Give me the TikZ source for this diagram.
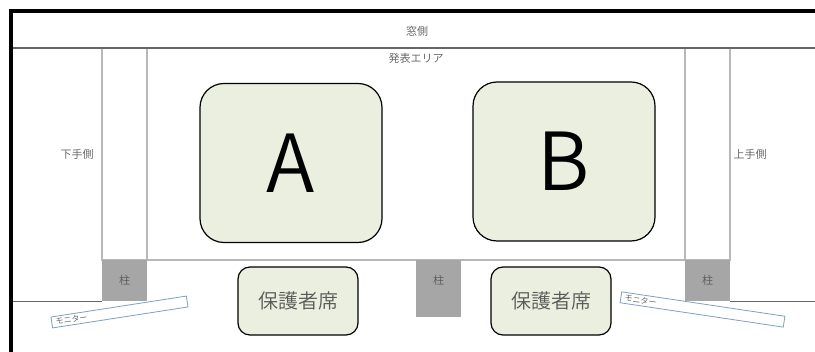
\documentclass[tikz,border=0pt]{standalone}
\usepackage{fontspec}
\setmainfont{Noto Sans CJK JP}
\newfontfamily\lightfont{Noto Sans CJK JP DemiLight}
\definecolor{boxfill}{HTML}{EBEFDF}
\definecolor{wallgray}{HTML}{B8B8B8}
\definecolor{pillargray}{HTML}{A6A6A6}
\definecolor{labelgray}{HTML}{595959}
\definecolor{monitorblue}{HTML}{7F9FC4}
\tikzset{
  zone/.style={font=\lightfont\fontsize{11}{11}\selectfont, text=labelgray, inner sep=0pt},
  pillar/.style={fill=pillargray, inner sep=0pt, font=\lightfont\fontsize{11}{11}\selectfont, text=labelgray},
  group/.style={draw=black, line width=1.2pt, fill=boxfill, rounded corners=24pt, minimum width=182pt, minimum height=159pt, inner sep=0pt, font=\lightfont\fontsize{80}{80}\selectfont},
  seat/.style={draw=black, line width=1.2pt, fill=boxfill, rounded corners=12pt, minimum width=120pt, minimum height=68pt, inner sep=0pt, text=labelgray, font=\lightfont\fontsize{20}{20}\selectfont},
  monitor/.style={draw=monitorblue, line width=0.8pt, fill=white, minimum height=11pt, inner sep=0pt, font=\lightfont\fontsize{8}{8}\selectfont, text=labelgray}
}
\begin{document}
\begin{tikzpicture}[x=1pt,y=-1pt]
    \useasboundingbox (0,0) rectangle (815,352);
    % walls
    \draw[wallgray, line width=1.2pt] (102,48) -- (102,260) -- (730,260) -- (730,48)
    (147,48) -- (147,260)
    (685,48) -- (685,260);
    \draw[gray!80!black, line width=1.2pt] (12,48) -- (815,48);
    \draw[gray!80!black, line width=0.8pt] (12,301) -- (102,301)
    (730,301) -- (815,301);
    % pillars
    \node[pillar, minimum width=45pt, minimum height=41pt] (pillarl) at (124.5,280.5) {柱};
    \node[pillar, minimum width=45pt, minimum height=57pt, anchor=north] (pillarm) at (438.5,260) {};
    \node[zone] (pillarmtext) at (438.5,280.5) {柱};
    \node[pillar, minimum width=45pt, minimum height=41pt] (pillarr) at (707.5,280.5) {柱};
    % outer frame
    \draw[black, line width=4pt] (11,352) -- (11,11) -- (815,11);
    % labels
    \node[zone] (window) at (417,31) {窓側};
    \node[zone] (stage) at (416,58.5) {発表エリア};
    \node[zone] (left) at (77,154) {下手側};
    \node[zone] (right) at (750,154) {上手側};
    % groups
    \node[group] (a) at (291,163) {A};
    \node[group] (b) at (564,161.5) {B};
    \node[seat] (seata) at (298,301) {保護者席};
    \node[seat] (seatb) at (551,301) {保護者席};
    % monitors
    \node[monitor, rotate=8.8, minimum width=137pt, text width=129pt, align=left] (monitorl) at (119.5,312) {モニター};
    \node[monitor, rotate=-8.5, minimum width=165pt, text width=157pt, align=left] (monitorr) at (702.5,309.5) {モニター};
  \end{tikzpicture}
\end{document}
